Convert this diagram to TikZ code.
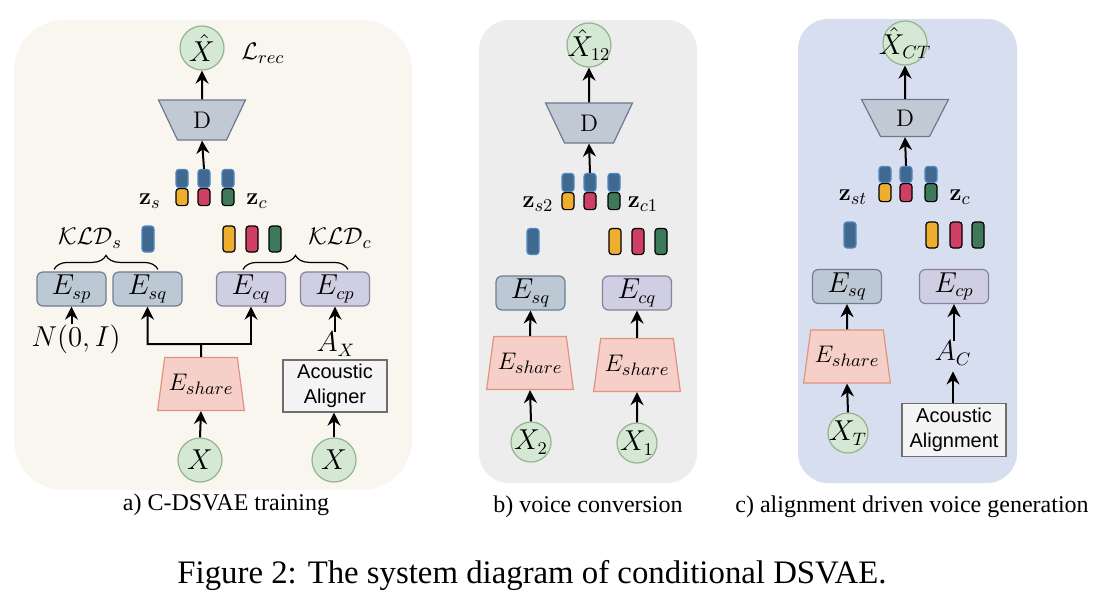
\documentclass[tikz,border=0pt]{standalone}
\usepackage[no-math]{fontspec}
\setmainfont{Liberation Serif}
\newfontfamily\alignerfont{Liberation Sans}
\usetikzlibrary{shapes.geometric,arrows.meta,decorations.pathreplacing}

\definecolor{bga}{HTML}{F8F6EF}
\definecolor{bgb}{HTML}{EDEDED}
\definecolor{bgc}{HTML}{D7DEEF}
\definecolor{circfill}{HTML}{D5E8D4}
\definecolor{circline}{HTML}{94B38E}
\definecolor{decfill}{HTML}{C1C9D5}
\definecolor{decline}{HTML}{6B7A8F}
\definecolor{sfill}{HTML}{BCC8D4}
\definecolor{sline}{HTML}{6F7F92}
\definecolor{cfill}{HTML}{D0CEE3}
\definecolor{cline}{HTML}{85849C}
\definecolor{shfill}{HTML}{F6CFC9}
\definecolor{shline}{HTML}{E0937F}
\definecolor{alfill}{HTML}{F4F4F4}
\definecolor{alline}{HTML}{6E6E6E}
\definecolor{zblue}{HTML}{41688F}
\definecolor{zblueline}{HTML}{4F88C0}
\definecolor{zyellow}{HTML}{EFAE2E}
\definecolor{zred}{HTML}{CF3F63}
\definecolor{zgreen}{HTML}{3E7A59}

\newcommand\lblfont{\fontsize{13.5}{15}\selectfont}
\newcommand\lossfont{\fontsize{12.5}{14}\selectfont}

\tikzset{
  arr/.style={-{Stealth[length=6.5pt,width=6.5pt]}, line width=1pt},
  io/.style={circle, draw=circline, fill=circfill, line width=0.6pt,
    minimum size=22pt, inner sep=0pt, font=\lblfont},
  dec/.style={trapezium, shape border rotate=180, trapezium stretches=true,
    minimum width=43.5pt, minimum height=20pt, trapezium angle=67,
    draw=decline, fill=decfill, line width=0.6pt, inner sep=0pt, font=\fontsize{11.5}{13}\selectfont},
  share/.style={trapezium, trapezium stretches=true,
    minimum width=43.5pt, minimum height=26.5pt, trapezium angle=73,
    draw=shline, fill=shfill, line width=0.6pt, inner sep=0pt, font=\lossfont},
  sbox/.style={rectangle, rounded corners=3pt, draw=sline, fill=sfill, line width=0.6pt,
    minimum width=34.5pt, minimum height=17pt, inner sep=0pt, font=\lblfont},
  cbox/.style={sbox, draw=cline, fill=cfill},
  alignbox/.style={rectangle, draw=alline, fill=alfill, line width=0.6pt,
    minimum width=52pt, minimum height=26pt, inner sep=0pt, align=center,
    font=\alignerfont\fontsize{10}{12.5}\selectfont},
  lbl/.style={inner sep=0pt, font=\lblfont},
  loss/.style={inner sep=0pt, font=\lossfont},
  zbar/.style={rectangle, rounded corners=1.5pt, draw=black, line width=0.6pt,
    minimum width=6pt, minimum height=8.5pt, inner sep=0pt},
  zsingle/.style={zbar, minimum height=13pt},
  brace/.style={decorate, decoration={brace, amplitude=7pt}, line width=0.6pt},
  panel/.style={inner sep=0pt, font=\fontsize{12}{14}\selectfont},
}

\begin{document}
\begin{tikzpicture}[x=0.5pt,y=-0.5pt]
  \useasboundingbox (0,0) rectangle (1102,600);

  % backgrounds
  \fill[bga] (14,20) [rounded corners=25pt] rectangle (412,490);
  \fill[bgb] (479,20) [rounded corners=15pt] rectangle (697,483);
  \fill[bgc] (798,19) [rounded corners=15pt] rectangle (1017,483);

  % a) C-DSVAE training
  \node[io] (xhata) at (202,48) {$\hat{X}$};
  \node[loss] (lrec) at (263,53) {$\mathcal{L}_{rec}$};
  \node[dec] (deca) at (202,120) {$\mathrm{D}$};
  \foreach \x/\c [count=\i] in {182/zyellow,204/zred,228/zgreen}{
    \node[zbar, fill=zblue, draw=zblueline, minimum height=9pt, anchor=south] (zat\i) at (\x,188) {};
    \node[zbar, fill=\c, anchor=north] (zab\i) at (\x,188) {};
  }
  \node[loss] (zsa) at (150,201) {$\mathbf{z}_s$};
  \node[loss] (zca) at (257,201) {$\mathbf{z}_c$};
  \node[loss] (klds) at (90,238) {$\mathcal{KLD}_s$};
  \node[loss] (kldc) at (340,238) {$\mathcal{KLD}_c$};
  \node[zsingle, fill=zblue, draw=zblueline] (sa) at (148,239) {};
  \foreach \x/\c [count=\i] in {229/zyellow,252/zred,275/zgreen}
    \node[zsingle, fill=\c] (ca\i) at (\x,239) {};
  \node[sbox] (espa) at (71.5,289) {$E_{sp}$};
  \node[sbox] (esqa) at (147.5,289) {$E_{sq}$};
  \node[cbox] (ecqa) at (251,289) {$E_{cq}$};
  \node[cbox] (ecpa) at (335,289) {$E_{cp}$};
  \draw[brace] ([xshift=-8.75pt,yshift=1pt]espa.north) -- ([xshift=5.25pt,yshift=1pt]esqa.north);
  \draw[brace] ([xshift=-4pt,yshift=1pt]ecqa.north) -- ([xshift=6.5pt,yshift=1pt]ecpa.north);
  \node[lbl] (noise) at (76,339) {$N(0,I)$};
  \node[share] (sha) at (201,384) {$E_{share}$};
  \node[io] (xa) at (200,460) {$X$};
  \node[lbl] (ax) at (336,344) {$A_X$};
  \node[alignbox] (aligner) at (335,386) {Acoustic\\Aligner};
  \node[io] (xa2) at (334,460) {$X$};
  \coordinate (split) at (201,344);
  \draw[arr] (deca.north) -- (xhata.south);
  \draw[arr] (zat2.north) -- (deca.south);
  \draw[arr] (noise.north -| espa) -- (espa.south);
  \draw[arr] (sha.north) -- (split) -| (esqa.south);
  \draw[arr] (split) -| (ecqa.south);
  \draw[arr] (xa.north) -- (sha.south);
  \draw[arr] (ax.north -| ecpa) -- (ecpa.south);
  \draw[arr] (xa2.north) -- (xa2.north |- aligner.south);
  \node[panel] (capa) at (226,505) {a) C-DSVAE training};

  % b) voice conversion
  \node[io] (xhatb) at (589,45) {\makebox[0pt]{$\hat{X}_{12}$}};
  \node[dec] (decb) at (589,123) {$\mathrm{D}$};
  \foreach \x/\c [count=\i] in {568/zyellow,590/zred,614/zgreen}{
    \node[zbar, fill=zblue, draw=zblueline, minimum height=9pt, anchor=south] (zbt\i) at (\x,192) {};
    \node[zbar, fill=\c, anchor=north] (zbb\i) at (\x,192) {};
  }
  \node[loss] (zsb) at (538,204) {$\mathbf{z}_{s2}$};
  \node[loss] (zcb) at (643,204) {$\mathbf{z}_{c1}$};
  \node[zsingle, fill=zblue, draw=zblueline] (sb) at (533,241.5) {};
  \foreach \x/\c [count=\i] in {615/zyellow,638/zred,661/zgreen}
    \node[zsingle, fill=\c] (cb\i) at (\x,241.5) {};
  \node[sbox] (esqb) at (530.5,293) {$E_{sq}$};
  \node[cbox] (ecqb) at (637,293) {$E_{cq}$};
  \node[share] (shb1) at (530,363) {$E_{share}$};
  \node[share] (shb2) at (637,365) {$E_{share}$};
  \node[io, minimum size=20pt] (x2) at (531,442) {\makebox[0pt]{$X_2$}};
  \node[io, minimum size=20pt] (x1) at (637,443) {\makebox[0pt]{$X_1$}};
  \draw[arr] (decb.north) -- (xhatb.south);
  \draw[arr] (zbt2.north) -- (decb.south);
  \draw[arr] (shb1.north) -- (esqb.south);
  \draw[arr] (shb2.north) -- (ecqb.south);
  \draw[arr] (x2.north) -- (shb1.south);
  \draw[arr] (x1.north) -- (shb2.south);
  \node[panel] (capb) at (588,507) {b) voice conversion};

  % c) alignment driven voice generation
  \node[io] (xhatc) at (905,43) {\makebox[0pt]{$\hat{X}_{CT}$}};
  \node[dec, minimum height=18.5pt] (decc) at (905,118) {$\mathrm{D}$};
  \foreach \x/\c [count=\i] in {885/zyellow,906/zred,931/zgreen}{
    \node[zbar, fill=zblue, draw=zblueline, minimum height=8pt, anchor=south] (zct\i) at (\x,183) {};
    \node[zbar, fill=\c, minimum height=9pt, anchor=north] (zcb\i) at (\x,183) {};
  }
  \node[loss] (zsc) at (853,197) {$\mathbf{z}_{st}$};
  \node[loss] (zcc) at (960,197) {$\mathbf{z}_c$};
  \node[zsingle, fill=zblue, draw=zblueline] (sc) at (850,235) {};
  \foreach \x/\c [count=\i] in {932/zyellow,956/zred,978/zgreen}
    \node[zsingle, fill=\c] (cc\i) at (\x,235) {};
  \node[sbox] (esqc) at (847,286.5) {$E_{sq}$};
  \node[cbox] (ecpc) at (954,286.5) {$E_{cp}$};
  \node[share] (shc) at (847,356.5) {$E_{share}$};
  \node[io, minimum size=20pt] (xt) at (848,433) {\makebox[0pt]{$X_T$}};
  \node[lbl] (ac) at (953,353) {$A_C$};
  \node[alignbox, minimum height=26.5pt] (alignment) at (954,430) {Acoustic\\Alignment};
  \draw[arr] (decc.north) -- (xhatc.south);
  \draw[arr] (zct2.north) -- (decc.south);
  \draw[arr] (shc.north) -- (esqc.south);
  \draw[arr] (xt.north) -- (shc.south);
  \draw[arr] (ac.north -| ecpc) -- (ecpc.south);
  \draw[arr] (alignment.north -| ac) -- ([yshift=-3pt]ac.south);
  \node[panel] (capc) at (912,507) {c) alignment driven voice generation};

  \node[inner sep=0pt, font=\fontsize{16.4}{19}\selectfont] (fig) at (532,575)
    {Figure 2: The system diagram of conditional DSVAE.};
\end{tikzpicture}
\end{document}
